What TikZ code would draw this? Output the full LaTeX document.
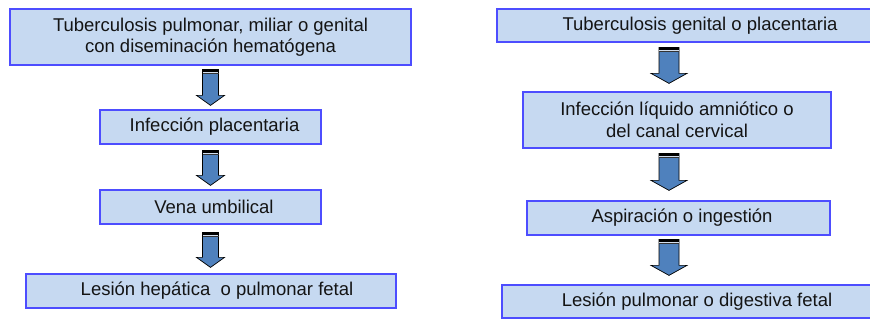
\documentclass[tikz,border=0pt]{standalone}
\usepackage{fontspec}
\setmainfont{Liberation Sans}
\usetikzlibrary{calc}
\definecolor{boxfill}{HTML}{C6D9F1}
\definecolor{boxline}{HTML}{4D4DFF}
\definecolor{arrfill}{HTML}{4F81BD}
\tikzset{
  flowbox/.style={draw=boxline, fill=boxfill, line width=1.2pt, inner sep=0pt, align=center,
    font=\fontsize{18.5}{21.5}\selectfont, text=black!92},
  blockarr/.style={draw=black, fill=arrfill, line width=0.7pt, line join=miter},
}
% #1 from node, #2 to node, #3 x centre, #4 half shaft, #5 half head, #6 top gap, #7 bottom gap
\newcommand\flowarrow[7]{%
  \draw[blockarr] let \p1=(#1.south), \p2=(#2.north) in
    (#3pt-#4pt,\y1-#6pt) -- (#3pt+#4pt,\y1-#6pt) -- (#3pt+#4pt,\y2+#7pt+10pt)
    -- (#3pt+#5pt,\y2+#7pt+10pt) -- (#3pt,\y2+#7pt) -- (#3pt-#5pt,\y2+#7pt+10pt)
    -- (#3pt-#4pt,\y2+#7pt+10pt) -- cycle;
  \fill[black] let \p1=(#1.south) in
    (#3pt-#4pt,\y1-#6pt) rectangle (#3pt+#4pt,\y1-#6pt-2.6pt);
  \fill[white!75!arrfill] let \p1=(#1.south) in
    (#3pt-#4pt+0.4pt,\y1-#6pt-2.6pt) rectangle (#3pt+#4pt-0.4pt,\y1-#6pt-3.6pt);
  \fill[black!80] let \p1=(#1.south) in
    (#3pt-#4pt,\y1-#6pt-3.6pt) rectangle (#3pt+#4pt,\y1-#6pt-4.6pt);
}
\begin{document}
\begin{tikzpicture}[x=1pt,y=1pt]
\useasboundingbox (0,0) rectangle (870,320);
\fill[white] (0,0) rectangle (870,320);
% left column
\node[flowbox, minimum width=401pt, minimum height=56pt] (L1) at (210.5,283)
  {Tuberculosis pulmonar, miliar o genital\\con diseminación hematógena};
\node[flowbox, minimum width=221pt, minimum height=34pt] (L2) at (210.5,193)
  {\hspace*{8pt}Infección placentaria};
\node[flowbox, minimum width=221pt, minimum height=34pt] (L3) at (210.5,113)
  {\hspace*{7pt}Vena umbilical};
\node[flowbox, minimum width=370pt, minimum height=34pt] (L4) at (211,29)
  {\hspace*{12pt}Lesión hepática~ o pulmonar fetal};
% right column
\node[flowbox, minimum width=406pt, minimum height=33pt] (R1) at (700,294.5)
  {Tuberculosis genital o placentaria};
\node[flowbox, minimum width=308pt, minimum height=56pt] (R2) at (677,200)
  {Infección líquido amniótico o\\del canal cervical};
\node[flowbox, minimum width=303pt, minimum height=34pt] (R3) at (678.5,102)
  {\hspace*{7pt}Aspiración o ingestión};
\node[flowbox, minimum width=390pt, minimum height=33pt] (R4) at (697,18.5)
  {Lesión pulmonar o digestiva fetal};
% arrows
\flowarrow{L1}{L2}{210.5}{8}{14}{4}{4}
\flowarrow{L2}{L3}{210.5}{8}{14}{6}{4}
\flowarrow{L3}{L4}{210.5}{8}{14}{8}{6}
\flowarrow{R1}{R2}{669}{10}{18}{5}{8}
\flowarrow{R2}{R3}{669}{10}{18}{5}{10}
\flowarrow{R3}{R4}{669}{10}{18}{4}{9}
\end{tikzpicture}
\end{document}
